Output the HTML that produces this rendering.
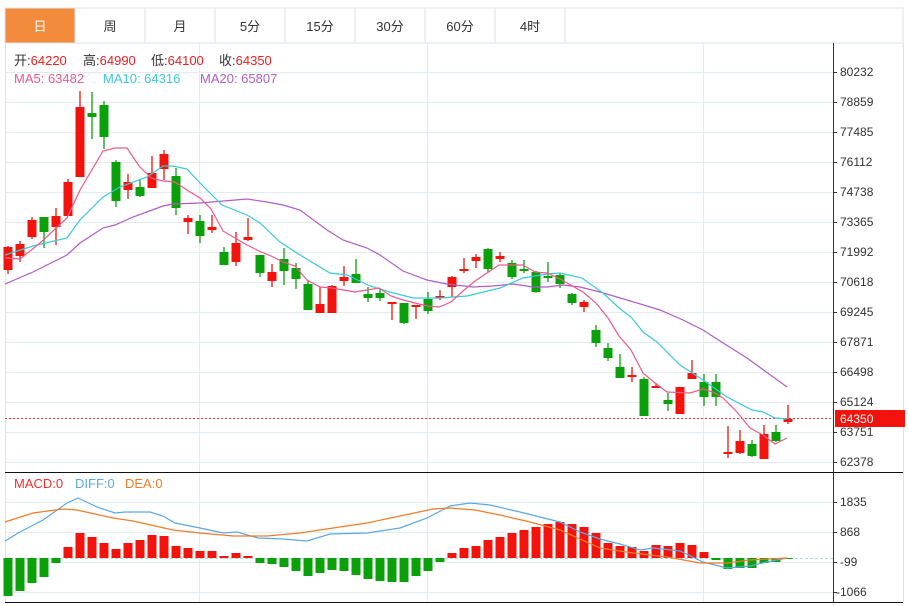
<!DOCTYPE html>
<html><head><meta charset="utf-8"><style>
body{margin:0;background:#fff;width:908px;height:606px;overflow:hidden;font-family:"Liberation Sans","Noto Sans CJK SC",sans-serif;}
svg{display:block}
</style></head><body>
<svg width="908" height="606" xmlns="http://www.w3.org/2000/svg" font-family="Liberation Sans, Noto Sans CJK SC, sans-serif">
<rect x="0" y="0" width="908" height="606" fill="#fff"/>
<!-- tabs -->
<rect x="5" y="8" width="898" height="35" fill="#fff" stroke="#dde3e8"/>
<rect x="5.5" y="8.5" width="69" height="34" fill="#f28c3c"/>
<g stroke="#dde3e8"><line x1="75" y1="8" x2="75" y2="43"/><line x1="145" y1="8" x2="145" y2="43"/><line x1="215" y1="8" x2="215" y2="43"/><line x1="285" y1="8" x2="285" y2="43"/><line x1="355" y1="8" x2="355" y2="43"/><line x1="425" y1="8" x2="425" y2="43"/><line x1="495" y1="8" x2="495" y2="43"/><line x1="565" y1="8" x2="565" y2="43"/></g>
<g font-size="13" text-anchor="middle" fill="#333"><text x="40" y="31" fill="#fff">日</text><text x="110" y="31">周</text><text x="180" y="31">月</text><text x="250" y="31">5分</text><text x="320" y="31">15分</text><text x="390" y="31">30分</text><text x="460" y="31">60分</text><text x="530" y="31">4时</text></g>
<!-- frame -->
<line x1="5.5" y1="43" x2="5.5" y2="603" stroke="#dde3e8"/>
<line x1="903.5" y1="43" x2="903.5" y2="603" stroke="#dde3e8"/>
<!-- grid -->
<g stroke="#e3ebf1" stroke-width="1">
<line x1="5" y1="72.5" x2="833" y2="72.5"/><line x1="5" y1="102.5" x2="833" y2="102.5"/><line x1="5" y1="132.5" x2="833" y2="132.5"/><line x1="5" y1="162.5" x2="833" y2="162.5"/><line x1="5" y1="192.5" x2="833" y2="192.5"/><line x1="5" y1="222.5" x2="833" y2="222.5"/><line x1="5" y1="252.5" x2="833" y2="252.5"/><line x1="5" y1="282.5" x2="833" y2="282.5"/><line x1="5" y1="312.5" x2="833" y2="312.5"/><line x1="5" y1="342.5" x2="833" y2="342.5"/><line x1="5" y1="372.5" x2="833" y2="372.5"/><line x1="5" y1="402.5" x2="833" y2="402.5"/><line x1="5" y1="432.5" x2="833" y2="432.5"/><line x1="5" y1="462.5" x2="833" y2="462.5"/>
<line x1="5" y1="502.5" x2="833" y2="502.5"/><line x1="5" y1="532.5" x2="833" y2="532.5"/><line x1="5" y1="562.5" x2="833" y2="562.5"/><line x1="5" y1="592.5" x2="833" y2="592.5"/>
<line x1="199.5" y1="43" x2="199.5" y2="603"/><line x1="427.5" y1="43" x2="427.5" y2="603"/><line x1="703.5" y1="43" x2="703.5" y2="603"/>
</g>
<!-- header text -->
<g font-size="13">
<text x="14" y="65" fill="#333">开:<tspan fill="#f01e1e">64220</tspan></text>
<text x="83" y="65" fill="#333">高:<tspan fill="#f01e1e">64990</tspan></text>
<text x="151" y="65" fill="#333">低:<tspan fill="#f01e1e">64100</tspan></text>
<text x="219" y="65" fill="#333">收:<tspan fill="#f01e1e">64350</tspan></text>
<text x="14" y="83" fill="#ec5a8a">MA5: 63482</text>
<text x="103" y="83" fill="#3ac8dc">MA10: 64316</text>
<text x="200" y="83" fill="#b05cc8">MA20: 65807</text>
</g>
<!-- axis -->
<line x1="833.5" y1="43" x2="833.5" y2="603" stroke="#333"/>
<line x1="5" y1="472.5" x2="903" y2="472.5" stroke="#111"/>
<line x1="5" y1="602.5" x2="903" y2="602.5" stroke="#111"/>
<g font-size="12" fill="#333">
<text x="840" y="76">80232</text><text x="840" y="106">78859</text><text x="840" y="136">77485</text><text x="840" y="166">76112</text><text x="840" y="196">74738</text><text x="840" y="226">73365</text><text x="840" y="256">71992</text><text x="840" y="286">70618</text><text x="840" y="316">69245</text><text x="840" y="346">67871</text><text x="840" y="376">66498</text><text x="840" y="406">65124</text><text x="840" y="436">63751</text><text x="840" y="466">62378</text>
<text x="840" y="506">1835</text><text x="840" y="536">868</text><text x="840" y="566">-99</text><text x="836" y="596">-1066</text>
</g>
<g stroke="#333"><line x1="833" y1="72.5" x2="837" y2="72.5"/><line x1="833" y1="102.5" x2="837" y2="102.5"/><line x1="833" y1="132.5" x2="837" y2="132.5"/><line x1="833" y1="162.5" x2="837" y2="162.5"/><line x1="833" y1="192.5" x2="837" y2="192.5"/><line x1="833" y1="222.5" x2="837" y2="222.5"/><line x1="833" y1="252.5" x2="837" y2="252.5"/><line x1="833" y1="282.5" x2="837" y2="282.5"/><line x1="833" y1="312.5" x2="837" y2="312.5"/><line x1="833" y1="342.5" x2="837" y2="342.5"/><line x1="833" y1="372.5" x2="837" y2="372.5"/><line x1="833" y1="402.5" x2="837" y2="402.5"/><line x1="833" y1="432.5" x2="837" y2="432.5"/><line x1="833" y1="462.5" x2="837" y2="462.5"/><line x1="833" y1="502.5" x2="837" y2="502.5"/><line x1="833" y1="532.5" x2="837" y2="532.5"/><line x1="833" y1="562.5" x2="837" y2="562.5"/><line x1="833" y1="592.5" x2="837" y2="592.5"/></g>
<!-- current price -->
<line x1="5" y1="418.5" x2="833" y2="418.5" stroke="#f03030" stroke-dasharray="2,2"/>
<rect x="835" y="410" width="70" height="17" fill="#f2140c"/>
<text x="840" y="423" font-size="12" fill="#fff">64350</text>
<!-- wicks -->
<g stroke-width="1.3">
<line x1="8" y1="246" x2="8" y2="274" stroke="#f2140c"/><line x1="20" y1="241" x2="20" y2="262" stroke="#f2140c"/><line x1="32" y1="217" x2="32" y2="239" stroke="#f2140c"/><line x1="44" y1="217" x2="44" y2="248" stroke="#0aa00a"/><line x1="56" y1="208" x2="56" y2="245" stroke="#f2140c"/><line x1="68" y1="179" x2="68" y2="216" stroke="#f2140c"/><line x1="80" y1="91" x2="80" y2="177" stroke="#f2140c"/><line x1="92" y1="92" x2="92" y2="139" stroke="#0aa00a"/><line x1="104" y1="101" x2="104" y2="149" stroke="#0aa00a"/><line x1="116" y1="160" x2="116" y2="207" stroke="#0aa00a"/><line x1="128" y1="174" x2="128" y2="199" stroke="#f2140c"/><line x1="140" y1="180" x2="140" y2="197" stroke="#0aa00a"/><line x1="152" y1="156" x2="152" y2="188" stroke="#f2140c"/><line x1="164" y1="150" x2="164" y2="180" stroke="#f2140c"/><line x1="176" y1="168" x2="176" y2="215" stroke="#0aa00a"/><line x1="188" y1="215" x2="188" y2="234" stroke="#f2140c"/><line x1="200" y1="215" x2="200" y2="243" stroke="#0aa00a"/><line x1="212" y1="215" x2="212" y2="233" stroke="#f2140c"/><line x1="224" y1="247" x2="224" y2="265" stroke="#0aa00a"/><line x1="236" y1="232" x2="236" y2="266" stroke="#f2140c"/><line x1="248" y1="218" x2="248" y2="241" stroke="#f2140c"/><line x1="260" y1="255" x2="260" y2="277" stroke="#0aa00a"/><line x1="272" y1="264" x2="272" y2="287" stroke="#f2140c"/><line x1="284" y1="248" x2="284" y2="285" stroke="#0aa00a"/><line x1="296" y1="263" x2="296" y2="289" stroke="#0aa00a"/><line x1="308" y1="281" x2="308" y2="310" stroke="#0aa00a"/><line x1="320" y1="287" x2="320" y2="313" stroke="#f2140c"/><line x1="332" y1="285" x2="332" y2="313" stroke="#f2140c"/><line x1="344" y1="266" x2="344" y2="286" stroke="#f2140c"/><line x1="356" y1="259" x2="356" y2="283" stroke="#0aa00a"/><line x1="368" y1="287" x2="368" y2="302" stroke="#0aa00a"/><line x1="380" y1="289" x2="380" y2="301" stroke="#0aa00a"/><line x1="392" y1="302" x2="392" y2="320" stroke="#f2140c"/><line x1="404" y1="303" x2="404" y2="324" stroke="#0aa00a"/><line x1="416" y1="305" x2="416" y2="319" stroke="#f2140c"/><line x1="428" y1="292" x2="428" y2="314" stroke="#0aa00a"/><line x1="440" y1="290" x2="440" y2="300" stroke="#f2140c"/><line x1="452" y1="276" x2="452" y2="297" stroke="#f2140c"/><line x1="464" y1="258" x2="464" y2="273" stroke="#f2140c"/><line x1="476" y1="254" x2="476" y2="268" stroke="#f2140c"/><line x1="488" y1="248" x2="488" y2="272" stroke="#0aa00a"/><line x1="500" y1="252" x2="500" y2="262" stroke="#f2140c"/><line x1="512" y1="260" x2="512" y2="279" stroke="#0aa00a"/><line x1="524" y1="260" x2="524" y2="273" stroke="#0aa00a"/><line x1="536" y1="271" x2="536" y2="293" stroke="#0aa00a"/><line x1="548" y1="262" x2="548" y2="282" stroke="#0aa00a"/><line x1="560" y1="273" x2="560" y2="288" stroke="#0aa00a"/><line x1="572" y1="293" x2="572" y2="305" stroke="#0aa00a"/><line x1="584" y1="300" x2="584" y2="312" stroke="#f2140c"/><line x1="596" y1="325" x2="596" y2="347" stroke="#0aa00a"/><line x1="608" y1="343" x2="608" y2="361" stroke="#0aa00a"/><line x1="620" y1="354" x2="620" y2="378" stroke="#0aa00a"/><line x1="632" y1="367" x2="632" y2="382" stroke="#f2140c"/><line x1="644" y1="377" x2="644" y2="416" stroke="#0aa00a"/><line x1="656" y1="383" x2="656" y2="388" stroke="#f2140c"/><line x1="668" y1="393" x2="668" y2="411" stroke="#0aa00a"/><line x1="680" y1="387" x2="680" y2="414" stroke="#f2140c"/><line x1="692" y1="360" x2="692" y2="379" stroke="#f2140c"/><line x1="704" y1="374" x2="704" y2="406" stroke="#0aa00a"/><line x1="716" y1="374" x2="716" y2="406" stroke="#0aa00a"/><line x1="728" y1="426" x2="728" y2="458" stroke="#f2140c"/><line x1="740" y1="430" x2="740" y2="454" stroke="#f2140c"/><line x1="752" y1="440" x2="752" y2="457" stroke="#0aa00a"/><line x1="764" y1="425" x2="764" y2="459" stroke="#f2140c"/><line x1="776" y1="425" x2="776" y2="442" stroke="#0aa00a"/><line x1="788" y1="405" x2="788" y2="424" stroke="#f2140c"/>
</g>
<!-- bodies -->
<g>
<rect x="3.5" y="247" width="9" height="23" fill="#f2140c"/><rect x="15.5" y="244" width="9" height="12" fill="#f2140c"/><rect x="27.5" y="220" width="9" height="17" fill="#f2140c"/><rect x="39.5" y="217" width="9" height="15" fill="#0aa00a"/><rect x="51.5" y="216" width="9" height="11" fill="#f2140c"/><rect x="63.5" y="182" width="9" height="34" fill="#f2140c"/><rect x="75.5" y="107" width="9" height="70" fill="#f2140c"/><rect x="87.5" y="113" width="9" height="4" fill="#0aa00a"/><rect x="99.5" y="105" width="9" height="32" fill="#0aa00a"/><rect x="111.5" y="162" width="9" height="39" fill="#0aa00a"/><rect x="123.5" y="182" width="9" height="8" fill="#f2140c"/><rect x="135.5" y="187" width="9" height="9" fill="#0aa00a"/><rect x="147.5" y="173" width="9" height="15" fill="#f2140c"/><rect x="159.5" y="154" width="9" height="15" fill="#f2140c"/><rect x="171.5" y="176" width="9" height="32" fill="#0aa00a"/><rect x="183.5" y="218" width="9" height="4" fill="#f2140c"/><rect x="195.5" y="221" width="9" height="15" fill="#0aa00a"/><rect x="207.5" y="227" width="9" height="3" fill="#f2140c"/><rect x="219.5" y="252" width="9" height="13" fill="#0aa00a"/><rect x="231.5" y="243" width="9" height="19" fill="#f2140c"/><rect x="243.5" y="237" width="9" height="3" fill="#f2140c"/><rect x="255.5" y="255" width="9" height="18" fill="#0aa00a"/><rect x="267.5" y="272" width="9" height="9" fill="#f2140c"/><rect x="279.5" y="259" width="9" height="12" fill="#0aa00a"/><rect x="291.5" y="268" width="9" height="11" fill="#0aa00a"/><rect x="303.5" y="284" width="9" height="26" fill="#0aa00a"/><rect x="315.5" y="304" width="9" height="9" fill="#f2140c"/><rect x="327.5" y="286" width="9" height="27" fill="#f2140c"/><rect x="339.5" y="277" width="9" height="4" fill="#f2140c"/><rect x="351.5" y="274" width="9" height="9" fill="#0aa00a"/><rect x="363.5" y="294" width="9" height="4" fill="#0aa00a"/><rect x="375.5" y="293" width="9" height="5" fill="#0aa00a"/><rect x="387.5" y="302" width="9" height="2" fill="#f2140c"/><rect x="399.5" y="303" width="9" height="20" fill="#0aa00a"/><rect x="411.5" y="305" width="9" height="2" fill="#f2140c"/><rect x="423.5" y="299" width="9" height="12" fill="#0aa00a"/><rect x="435.5" y="296" width="9" height="2" fill="#f2140c"/><rect x="447.5" y="277" width="9" height="10" fill="#f2140c"/><rect x="459.5" y="269" width="9" height="2" fill="#f2140c"/><rect x="471.5" y="257" width="9" height="4" fill="#f2140c"/><rect x="483.5" y="249" width="9" height="20" fill="#0aa00a"/><rect x="495.5" y="256" width="9" height="3" fill="#f2140c"/><rect x="507.5" y="263" width="9" height="14" fill="#0aa00a"/><rect x="519.5" y="269" width="9" height="2" fill="#0aa00a"/><rect x="531.5" y="272" width="9" height="20" fill="#0aa00a"/><rect x="543.5" y="276" width="9" height="2" fill="#0aa00a"/><rect x="555.5" y="275" width="9" height="9" fill="#0aa00a"/><rect x="567.5" y="294" width="9" height="9" fill="#0aa00a"/><rect x="579.5" y="302" width="9" height="5" fill="#f2140c"/><rect x="591.5" y="330" width="9" height="13" fill="#0aa00a"/><rect x="603.5" y="348" width="9" height="10" fill="#0aa00a"/><rect x="615.5" y="367" width="9" height="11" fill="#0aa00a"/><rect x="627.5" y="375" width="9" height="2" fill="#f2140c"/><rect x="639.5" y="379" width="9" height="37" fill="#0aa00a"/><rect x="651.5" y="386" width="9" height="2" fill="#f2140c"/><rect x="663.5" y="400" width="9" height="4" fill="#0aa00a"/><rect x="675.5" y="387" width="9" height="27" fill="#f2140c"/><rect x="687.5" y="373" width="9" height="6" fill="#f2140c"/><rect x="699.5" y="382" width="9" height="15" fill="#0aa00a"/><rect x="711.5" y="382" width="9" height="15" fill="#0aa00a"/><rect x="723.5" y="452" width="9" height="2" fill="#f2140c"/><rect x="735.5" y="441" width="9" height="12" fill="#f2140c"/><rect x="747.5" y="444" width="9" height="12" fill="#0aa00a"/><rect x="759.5" y="434" width="9" height="25" fill="#f2140c"/><rect x="771.5" y="432" width="9" height="9" fill="#0aa00a"/><rect x="783.5" y="419" width="9" height="3" fill="#f2140c"/>
</g>
<!-- MA lines -->
<g fill="none" stroke-width="1.2">
<polyline stroke="#b05cc8" points="5,284 33,272 67,255 80,243 103,228 115,225 133,217 163,206 173,204 200,203 247,199 267,202 283,205 300,210 327,230 343,240 367,248 380,255 403,271 427,280 447,284 473,287 493,286 513,284 533,287 547,287 563,285 580,287 600,292 627,300 660,310 683,320 703,330 720,341 747,358 787,387"/>
<polyline stroke="#3ac8dc" points="5,255 33,246 67,238 80,220 103,197 120,187 147,177 163,166 173,166 187,169 200,183 222,205 247,215 260,223 280,242 300,255 330,273 347,275 370,286 390,292 413,298 440,298 467,296 500,288 523,278 547,274 560,273 582,278 603,293 618,307 632,318 643,332 657,342 680,365 703,380 727,397 752,410 763,412 775,418 787,419"/>
<polyline stroke="#ec5a8a" points="5,258 20,259 40,243 67,218 80,190 103,151 115,148 127,148 139,166 151,178 163,181 175,182 187,190 200,198 211,209 223,231 235,238 247,245 259,251 271,256 283,262 295,266 307,280 320,287 332,288 355,292 379,288 391,296 403,300 415,303 427,306 439,307 451,302 463,291 475,281 487,273 499,265 523,265 535,272 547,273 560,279 583,292 596,303 608,318 619,336 631,350 643,373 655,383 667,392 690,393 703,389 713,392 723,398 737,412 750,428 763,435 775,444 787,438"/>
</g>
<!-- MACD -->
<g font-size="13">
<text x="14" y="488" fill="#f03030">MACD:0</text>
<text x="75" y="488" fill="#5aa8e8">DIFF:0</text>
<text x="125" y="488" fill="#f07c28">DEA:0</text>
</g>
<line x1="5" y1="558.5" x2="833" y2="558.5" stroke="#a8dcee" stroke-dasharray="3,2"/>
<g>
<rect x="3.5" y="558" width="9" height="38" fill="#0aa00a"/><rect x="15.5" y="558" width="9" height="33" fill="#0aa00a"/><rect x="27.5" y="558" width="9" height="25" fill="#0aa00a"/><rect x="39.5" y="558" width="9" height="19" fill="#0aa00a"/><rect x="51.5" y="558" width="9" height="5" fill="#0aa00a"/>
<rect x="63.5" y="547" width="9" height="11" fill="#f2140c"/><rect x="75.5" y="533" width="9" height="25" fill="#f2140c"/><rect x="87.5" y="537" width="9" height="21" fill="#f2140c"/><rect x="99.5" y="543" width="9" height="15" fill="#f2140c"/><rect x="111.5" y="549" width="9" height="9" fill="#f2140c"/><rect x="123.5" y="543" width="9" height="15" fill="#f2140c"/><rect x="135.5" y="540" width="9" height="18" fill="#f2140c"/><rect x="147.5" y="535" width="9" height="23" fill="#f2140c"/><rect x="159.5" y="536" width="9" height="22" fill="#f2140c"/><rect x="171.5" y="546" width="9" height="12" fill="#f2140c"/><rect x="183.5" y="548" width="9" height="10" fill="#f2140c"/><rect x="195.5" y="551" width="9" height="7" fill="#f2140c"/><rect x="207.5" y="551" width="9" height="7" fill="#f2140c"/><rect x="219.5" y="556" width="9" height="2" fill="#f2140c"/><rect x="231.5" y="553" width="9" height="5" fill="#f2140c"/><rect x="243.5" y="556" width="9" height="2" fill="#f2140c"/>
<rect x="255.5" y="558" width="9" height="5" fill="#0aa00a"/><rect x="267.5" y="558" width="9" height="6" fill="#0aa00a"/><rect x="279.5" y="558" width="9" height="9" fill="#0aa00a"/><rect x="291.5" y="558" width="9" height="13" fill="#0aa00a"/><rect x="303.5" y="558" width="9" height="18" fill="#0aa00a"/><rect x="315.5" y="558" width="9" height="15" fill="#0aa00a"/><rect x="327.5" y="558" width="9" height="12" fill="#0aa00a"/><rect x="339.5" y="558" width="9" height="13" fill="#0aa00a"/><rect x="351.5" y="558" width="9" height="17" fill="#0aa00a"/><rect x="363.5" y="558" width="9" height="21" fill="#0aa00a"/><rect x="375.5" y="558" width="9" height="23" fill="#0aa00a"/><rect x="387.5" y="558" width="9" height="24" fill="#0aa00a"/><rect x="399.5" y="558" width="9" height="24" fill="#0aa00a"/><rect x="411.5" y="558" width="9" height="18" fill="#0aa00a"/><rect x="423.5" y="558" width="9" height="13" fill="#0aa00a"/><rect x="435.5" y="558" width="9" height="4" fill="#0aa00a"/>
<rect x="447.5" y="553" width="9" height="5" fill="#f2140c"/><rect x="459.5" y="548" width="9" height="10" fill="#f2140c"/><rect x="471.5" y="546" width="9" height="12" fill="#f2140c"/><rect x="483.5" y="540" width="9" height="18" fill="#f2140c"/><rect x="495.5" y="537" width="9" height="21" fill="#f2140c"/><rect x="507.5" y="533" width="9" height="25" fill="#f2140c"/><rect x="519.5" y="530" width="9" height="28" fill="#f2140c"/><rect x="531.5" y="527" width="9" height="31" fill="#f2140c"/><rect x="543.5" y="524" width="9" height="34" fill="#f2140c"/><rect x="555.5" y="522" width="9" height="36" fill="#f2140c"/><rect x="567.5" y="524" width="9" height="34" fill="#f2140c"/><rect x="579.5" y="527" width="9" height="31" fill="#f2140c"/><rect x="591.5" y="533" width="9" height="25" fill="#f2140c"/><rect x="603.5" y="543" width="9" height="15" fill="#f2140c"/><rect x="615.5" y="546" width="9" height="12" fill="#f2140c"/><rect x="627.5" y="547" width="9" height="11" fill="#f2140c"/><rect x="639.5" y="551" width="9" height="7" fill="#f2140c"/><rect x="651.5" y="545" width="9" height="13" fill="#f2140c"/><rect x="663.5" y="546" width="9" height="12" fill="#f2140c"/><rect x="675.5" y="543" width="9" height="15" fill="#f2140c"/><rect x="687.5" y="545" width="9" height="13" fill="#f2140c"/><rect x="699.5" y="552" width="9" height="6" fill="#f2140c"/>
<rect x="711.5" y="558" width="9" height="2" fill="#0aa00a"/><rect x="723.5" y="558" width="9" height="11" fill="#0aa00a"/><rect x="735.5" y="558" width="9" height="10" fill="#0aa00a"/><rect x="747.5" y="558" width="9" height="10" fill="#0aa00a"/><rect x="759.5" y="558" width="9" height="5" fill="#0aa00a"/><rect x="771.5" y="558" width="9" height="4" fill="#0aa00a"/><rect x="783.5" y="558" width="9" height="1" fill="#0aa00a"/>
</g>
<g fill="none" stroke-width="1.2">
<polyline stroke="#5aa8e8" points="5,541 20,532 43,520 67,503 78,498 97,507 115,513 125,512 150,512 163,516 175,523 200,528 223,533 237,532 258,538 283,539 307,541 330,534 367,533 400,528 427,518 450,506 470,503 490,505 520,512 560,522 580,532 600,539 620,544 640,550 653,548 680,551 703,562 727,568 750,566 767,562 787,558"/>
<polyline stroke="#f07c28" points="5,522 33,513 63,509 77,510 113,518 133,521 173,530 200,533 233,536 267,536 300,533 333,528 367,523 400,516 433,509 450,508 475,510 500,515 530,522 560,530 600,548 633,553 667,557 700,563 727,563 750,560 787,558"/>
</g>
</svg>
</body></html>
